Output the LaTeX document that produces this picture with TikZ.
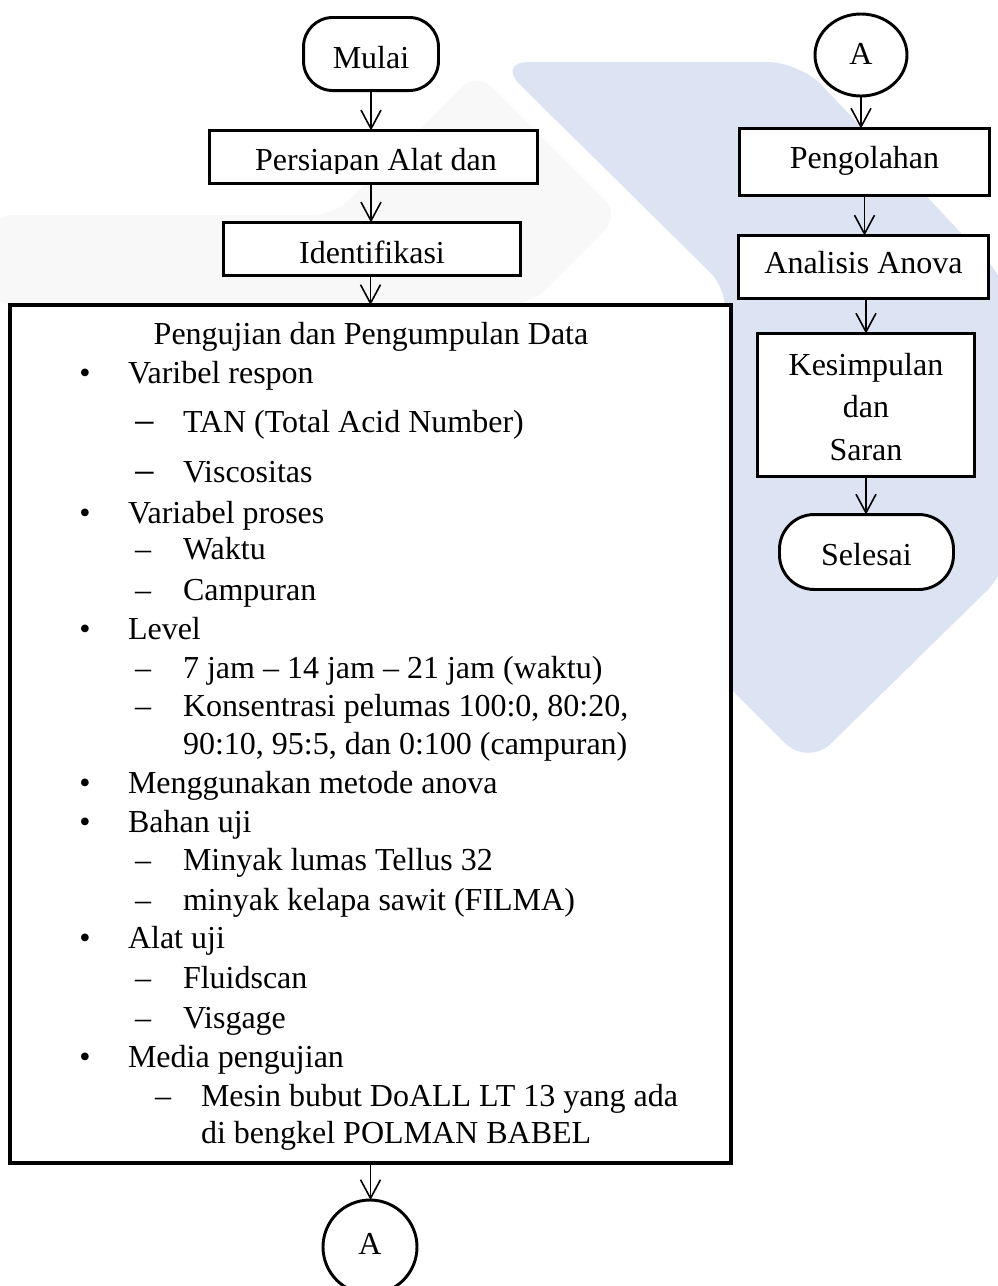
\documentclass[tikz,border=0pt]{standalone}
\usepackage{fontspec}
\setmainfont{Liberation Serif}
\usetikzlibrary{arrows.meta,shapes.geometric}
\definecolor{wmblue}{RGB}{220,227,242}
\definecolor{wmgray}{RGB}{248,248,249}
\begin{document}
\begin{tikzpicture}[x=0.375pt,y=-0.375pt,
  every node/.style={font=\fontsize{12}{14}\selectfont, inner sep=0pt, outer sep=0pt},
  box/.style={draw, line width=1.1pt, fill=white, rectangle},
  term/.style={box, rounded corners=11pt},
  conn/.style={draw, line width=1.1pt, fill=white, ellipse},
  bl/.style={text height=#1, text depth=0pt},
  flow/.style={draw, line width=0.6pt, -{Straight Barb[length=7pt,width=7.5pt,line width=0.6pt]}},
  lt/.style={anchor=base west},
  ct/.style={anchor=base},
  mdash/.style={anchor=base west, font=\fontsize{15}{15}\selectfont},
]
\useasboundingbox (0,0) rectangle (998,1286);
% watermark
\fill[wmgray, rounded corners=8pt] (-10,215) -- (334,215) -- (477,72) -- (620,215) -- (530,305) -- (-10,305) -- cycle;
\fill[wmblue, rounded corners=12pt] (497,62) -- (800,62) -- (1010,285) -- (1010,568) -- (808,766) -- (700,658) -- (700,400) -- (733,295) -- cycle;

% left column
\node[term, minimum width=50.6pt, minimum height=27.4pt, bl=10.5pt] (mulai) at (371,54) {Mulai};
\node[box, minimum width=123pt, minimum height=19.9pt] (persiapan) at (373.5,157) {};
\begin{scope}
  \clip (208,129) rectangle (539,173);
  \node[ct] (persiapantext) at (376,170) {Persiapan Alat dan};
\end{scope}
\node[box, minimum width=111.4pt, minimum height=19.9pt, bl=10.5pt] (identifikasi) at (372,249) {Identifikasi};
\node[box, line width=1.3pt, minimum width=270.4pt, minimum height=321.75pt] (uji) at (370.5,734) {};
\node[conn, minimum width=35.25pt, minimum height=35.25pt, bl=5.25pt] (a1) at (370,1247) {A};

% right column
\node[conn, minimum width=34.5pt, minimum height=30.75pt, bl=6.75pt] (a2) at (861,55) {A};
\node[box, minimum width=93.75pt, minimum height=25.1pt, bl=4.5pt] (olah) at (864.5,162) {Pengolahan};
\node[box, minimum width=93.75pt, minimum height=23.6pt, bl=4.5pt] (anova) at (863.5,267) {Analisis Anova};
\node[box, minimum width=81.4pt, minimum height=53.6pt] (simpul) at (866,405) {};
\node[ct] (s1) at (866,375) {Kesimpulan};
\node[ct] (s2) at (866,417) {dan};
\node[ct] (s3) at (866,460) {Saran};
\node[term, rounded corners=13pt, minimum width=65.25pt, minimum height=28.1pt, bl=9.75pt] (selesai) at (866.5,552) {Selesai};

% connectors
\draw[flow] (mulai.south) -- (mulai.south |- persiapan.north);
\draw[flow] (persiapan.south -| mulai.south) -- (mulai.south |- identifikasi.north);
\draw[flow] (identifikasi.south -| uji.north) -- (uji.north);
\draw[flow] (uji.south) -- (uji.south |- a1.north);
\draw[flow] (a2.south) -- (a2.south |- olah.north);
\draw[flow] (olah.south) -- (olah.south |- anova.north);
\draw[flow] (anova.south -| simpul.north) -- (simpul.north);
\draw[flow] (simpul.south) -- (simpul.south |- selesai.north);

% list content
\node[ct] (judul) at (371,344) {Pengujian dan Pengumpulan Data};
\node[ct] (b1) at (85,383) {•};
\node[lt] (t1) at (128,383) {Varibel respon};
\node[mdash] (d1) at (133,436) {−};
\node[lt] (t2) at (183,432) {TAN (Total Acid Number)};
\node[mdash] (d2) at (133,486) {−};
\node[lt] (t3) at (183,482) {Viscositas};
\node[ct] (b2) at (85,523) {•};
\node[lt] (t4) at (128,523) {Variabel proses};
\node[lt] (d3) at (135,559) {–};
\node[lt] (t5) at (183,559) {Waktu};
\node[lt] (d4) at (135,600) {–};
\node[lt] (t6) at (183,600) {Campuran};
\node[ct] (b3) at (85,639) {•};
\node[lt] (t7) at (128,639) {Level};
\node[lt] (d5) at (135,678) {–};
\node[lt] (t8) at (183,678) {7 jam – 14 jam – 21 jam (waktu)};
\node[lt] (d6) at (135,716) {–};
\node[lt] (t9) at (183,716) {Konsentrasi pelumas 100:0, 80:20,};
\node[lt] (t10) at (183,754) {90:10, 95:5, dan 0:100 (campuran)};
\node[ct] (b4) at (85,793) {•};
\node[lt] (t11) at (128,793) {Menggunakan metode anova};
\node[ct] (b5) at (85,832) {•};
\node[lt] (t12) at (128,832) {Bahan uji};
\node[lt] (d7) at (135,870) {–};
\node[lt] (t13) at (183,870) {Minyak lumas Tellus 32};
\node[lt] (d8) at (135,910) {–};
\node[lt] (t14) at (183,910) {minyak kelapa sawit (FILMA)};
\node[ct] (b6) at (85,948) {•};
\node[lt] (t15) at (128,948) {Alat uji};
\node[lt] (d9) at (135,988) {–};
\node[lt] (t16) at (183,988) {Fluidscan};
\node[lt] (d10) at (135,1028) {–};
\node[lt] (t17) at (183,1028) {Visgage};
\node[ct] (b7) at (85,1067) {•};
\node[lt] (t18) at (128,1067) {Media pengujian};
\node[lt] (d11) at (155,1106) {–};
\node[lt] (t19) at (201,1106) {Mesin bubut DoALL LT 13 yang ada};
\node[lt] (t20) at (201,1143) {di bengkel POLMAN BABEL};
\end{tikzpicture}
\end{document}
